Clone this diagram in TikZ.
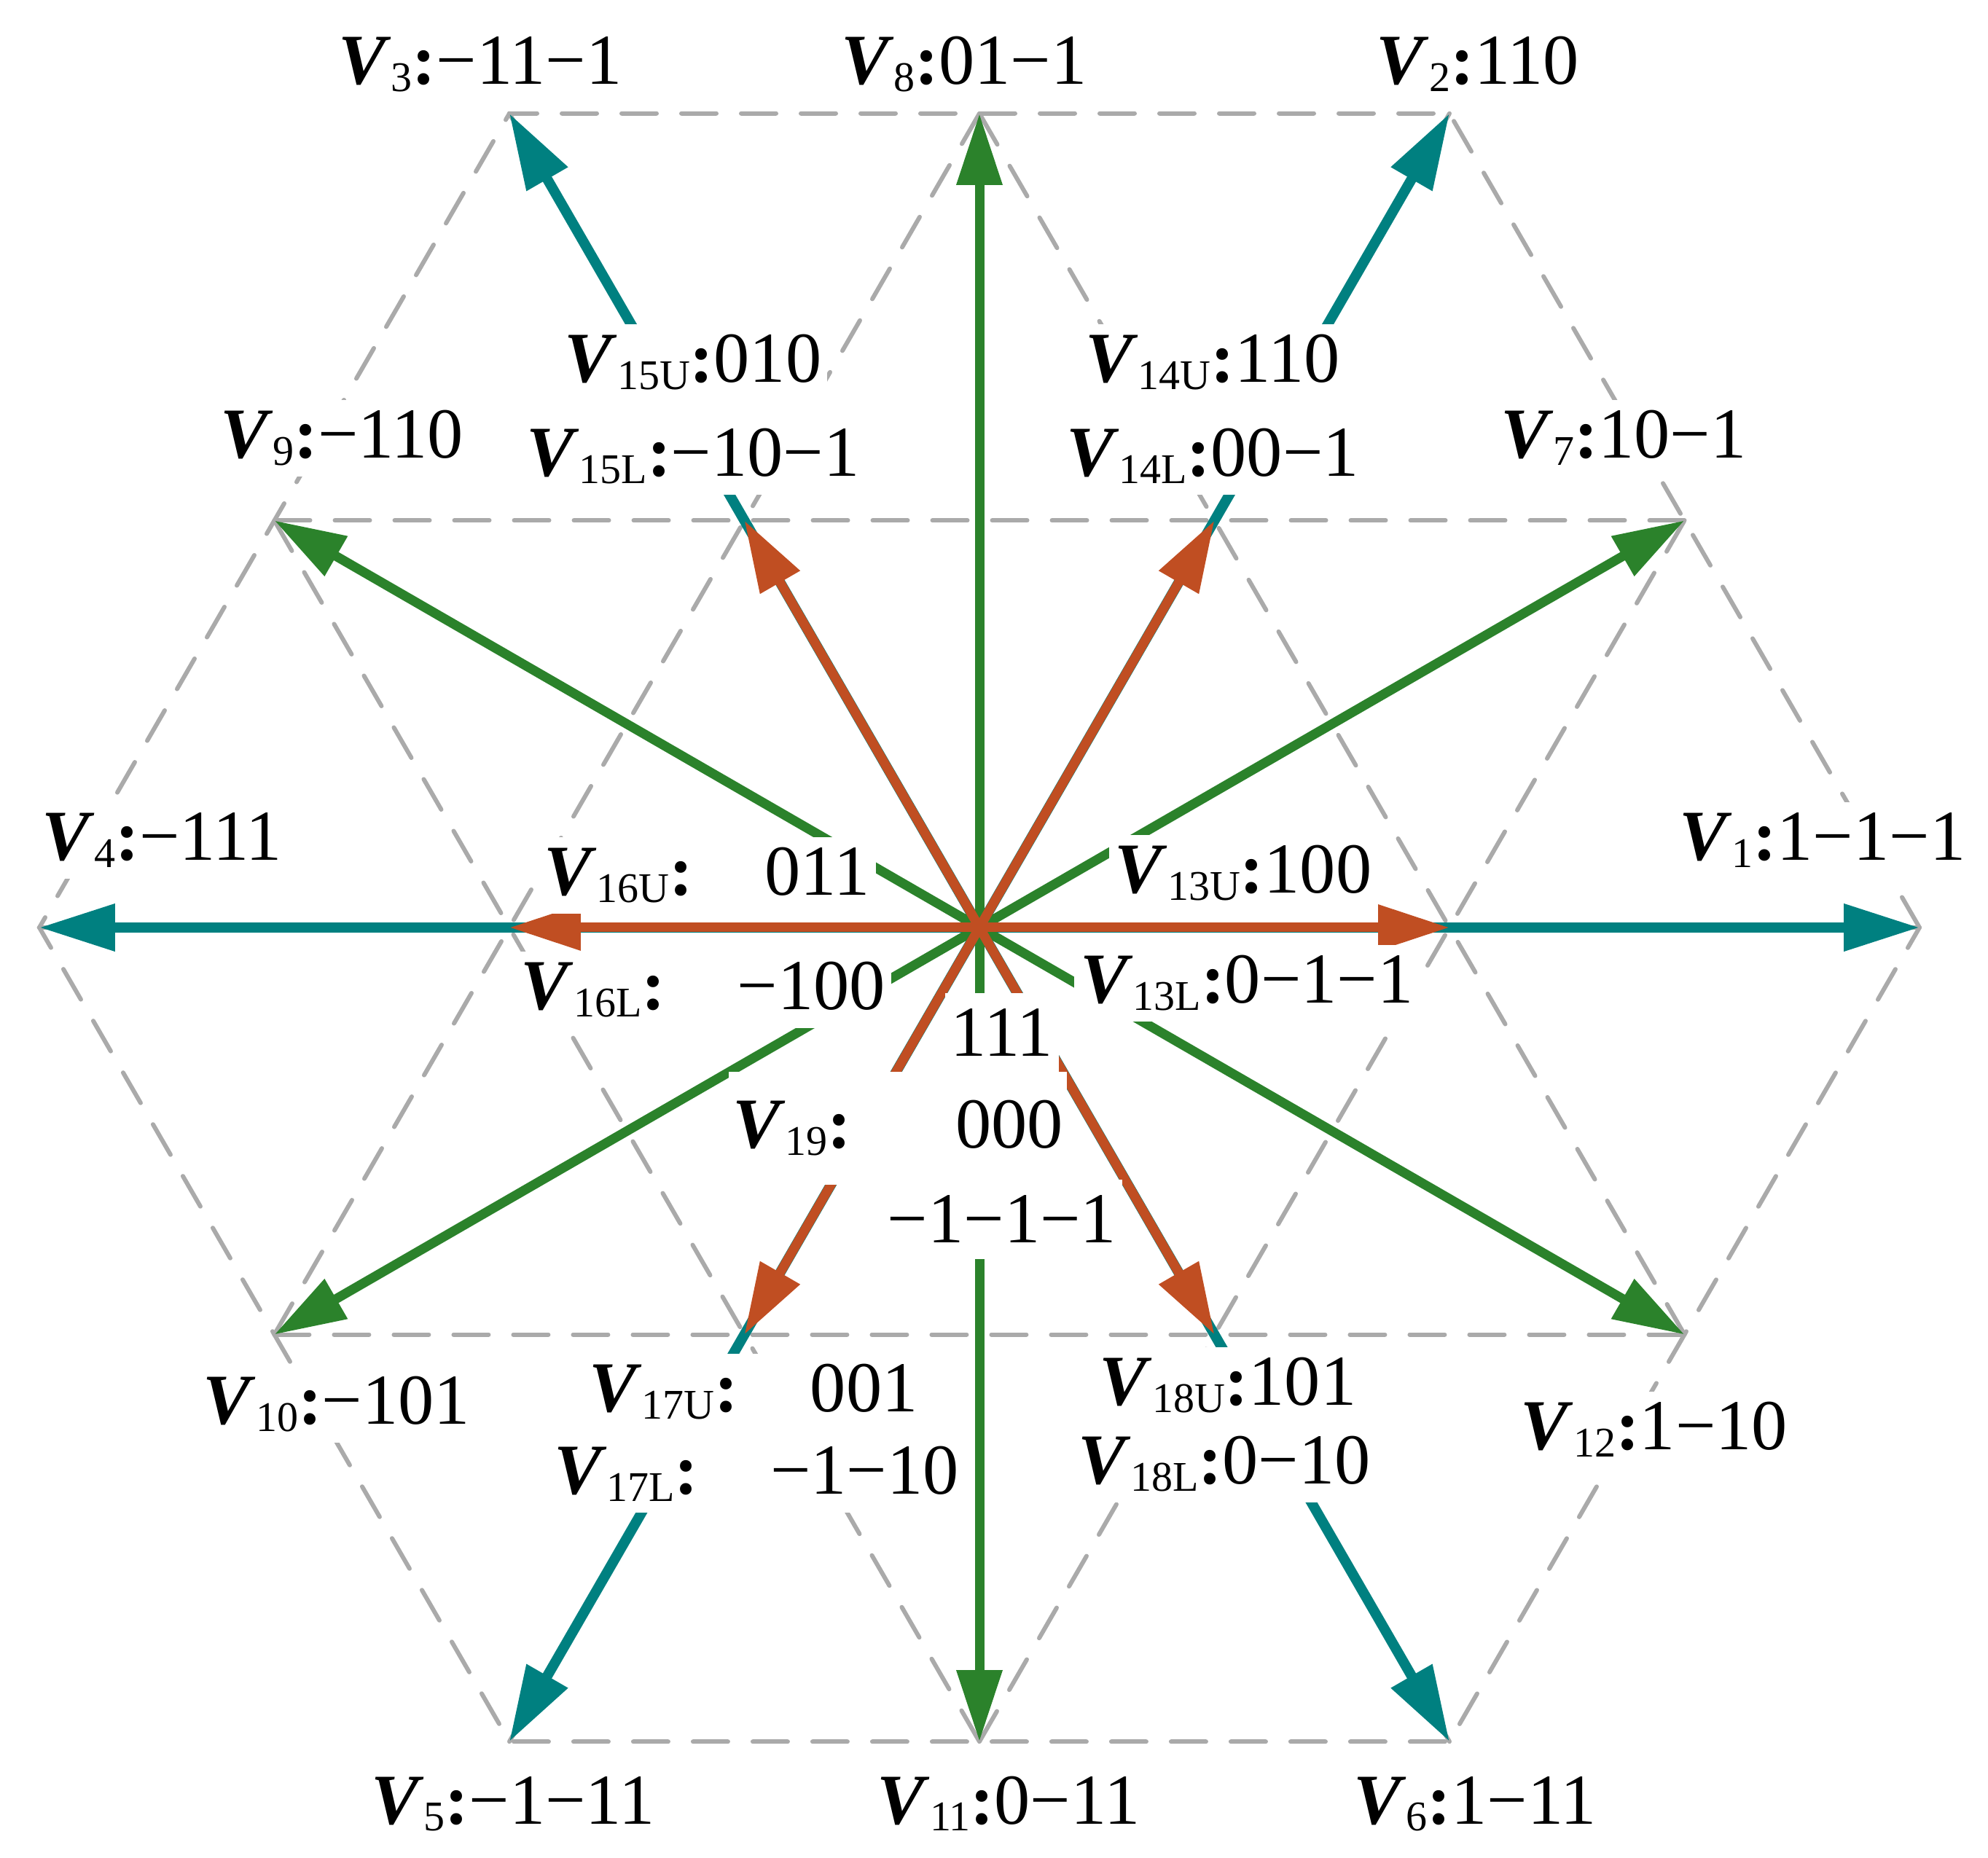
\documentclass[tikz,border=0pt]{standalone}
\usepackage{fontspec}
\setmainfont{Liberation Serif}
\usepackage{xcolor}
\usepackage{tikz}
\usetikzlibrary{arrows.meta}

\definecolor{vteal}{RGB}{0,128,128}
\definecolor{vgreen}{RGB}{43,130,43}
\definecolor{vred}{RGB}{192,78,34}
\definecolor{vgrid}{RGB}{170,170,170}

\newcommand{\vsub}[1]{\raisebox{-0.1em}{\fontsize{16.5}{18}\selectfont #1}}
\newcommand{\vlab}[2]{\textbf{\textit{V}}\vsub{#1}\textbf{:}#2}

\begin{document}
\begin{tikzpicture}[>={Triangle[length=0.98cm,width=0.6cm]},
    grid line/.style={vgrid, line width=0.06cm, line cap=round, dash pattern=on 0.48cm off 0.34cm},
    long vec/.style={->, vteal, line width=0.14cm, >={Triangle[length=1.04cm,width=0.62cm]}},
    mid vec/.style={->, vgreen, line width=0.13cm},
    short vec/.style={->, vred, line width=0.13cm},
    lbl/.style={font=\fontsize{28}{32}\selectfont, fill=white, inner xsep=0.08cm, inner ysep=0.15cm, anchor=base},
    upper/.style={lbl, text depth=0.36cm}]
    % \tikzstyle{every node}=[draw]
    \useasboundingbox (-13.44,-12.77) rectangle (13.84,12.73);

    \coordinate (O) at (0,0);
    \foreach \i in {0,...,5} {
        \coordinate (P\i) at (60*\i:12.9);
        \coordinate (H\i) at (60*\i:6.45);
        \coordinate (M\i) at (60*\i+30:11.172);
    }

    \draw[grid line] (P0) -- (P1) -- (P2) -- (P3) -- (P4) -- (P5) -- cycle;
    \foreach \i/\j in {0/3,1/4,2/5}
        \draw[grid line] (P\i) -- (P\j);
    \foreach \i/\j in {0/2,1/3,2/4,3/5,4/0,5/1}
        \draw[grid line] (M\i) -- (M\j);

    \foreach \i in {0,...,5}
        \draw[long vec] (O) -- (P\i);
    \foreach \i in {0,...,5}
        \draw[mid vec] (O) -- (M\i);
    \foreach \i in {0,...,5}
        \draw[short vec] (O) -- (H\i);

    \node[lbl] (v3)   at (-6.85,11.57) {\vlab{3}{−11−1}};
    \node[lbl] (v8)   at (-0.21,11.57) {\vlab{8}{01−1}};
    \node[lbl] (v2)   at (6.84,11.57)  {\vlab{2}{110}};
    \node[upper] (v15u) at (-3.93,7.48)  {\vlab{15U}{010}};
    \node[upper] (v14u) at (3.20,7.48)   {\vlab{14U}{110}};
    \node[lbl] (v9)   at (-8.75,6.44)  {\vlab{9}{−110}};
    \node[lbl] (v15l) at (-3.93,6.19)  {\vlab{15L}{−10−1}};
    \node[lbl] (v14l) at (3.20,6.19)   {\vlab{14L}{00−1}};
    \node[lbl] (v7)   at (8.84,6.44)   {\vlab{7}{10−1}};
    \node[lbl] (v4)   at (-11.22,0.92) {\vlab{4}{−111}};
    \node[lbl] (v16u) at (-3.74,0.44)  {\vlab{16U}{\quad 011}};
    \node[lbl] (v13u) at (3.62,0.47)   {\vlab{13U}{100}};
    \node[lbl] (v1)   at (11.57,0.92)  {\vlab{1}{1−1−1}};
    \node[lbl] (v16l) at (-3.79,-1.13) {\vlab{16L}{\quad −100}};
    \node[lbl] (v13l) at (3.67,-1.04)  {\vlab{13L}{0−1−1}};
    \node[lbl, inner ysep=0.22cm] (v19a) at (0.31,-1.77) {111};
    \node[lbl, inner ysep=0.4cm, inner xsep=0.05cm] (v19b) at (-1.12,-3.03) {\vlab{19}{\hspace{1.45em}000}};
    \node[lbl, inner ysep=0.22cm] (v19c) at (0.31,-4.33) {−1−1−1};
    \node[lbl] (v10)  at (-8.82,-6.82) {\vlab{10}{−101}};
    \node[upper] (v17u) at (-3.10,-6.65) {\vlab{17U}{\quad 001}};
    \node[upper] (v18u) at (3.41,-6.56)  {\vlab{18U}{101}};
    \node[lbl] (v12)  at (9.26,-7.17)  {\vlab{12}{1−10}};
    \node[lbl] (v17l) at (-3.06,-7.78) {\vlab{17L}{\quad −1−10}};
    \node[lbl] (v18l) at (3.36,-7.64)  {\vlab{18L}{0−10}};
    \node[lbl] (v5)   at (-6.40,-12.30) {\vlab{5}{−1−11}};
    \node[lbl] (v11)  at (0.40,-12.30)  {\vlab{11}{0−11}};
    \node[lbl] (v6)   at (6.80,-12.30)  {\vlab{6}{1−11}};
\end{tikzpicture}
\end{document}
